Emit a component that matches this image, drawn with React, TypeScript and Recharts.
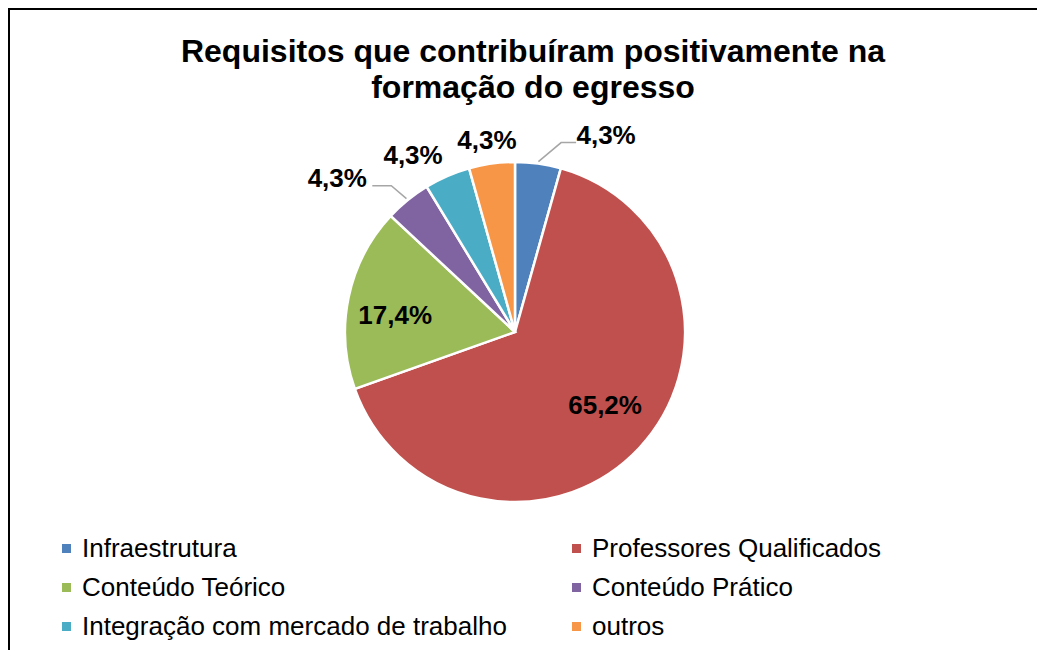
import React from "react";
import { PieChart, Pie, Cell } from "recharts";

// categories and counts (percent of 23 respondents)
const categories = [
  "Infraestrutura",
  "Professores Qualificados",
  "Conteúdo Teórico",
  "Conteúdo Prático",
  "Integração com mercado de trabalho",
  "outros",
];
const counts = [1, 15, 4, 1, 1, 1];

const COLORS = ["#4F81BD", "#C0504D", "#9BBB59", "#8064A2", "#4BACC6", "#F79646"];

// label placement (polar, relative to slice mid angle)
const LABEL_R = [217, 116, 121, 235, 204, 194];
const LABEL_SHIFT = [-17, 4, 3.6, 10, 6.5, 0.5];

const data = categories.map((name, i) => ({ name, value: counts[i] }));

const RAD = Math.PI / 180;

const renderLabel = (props: any) => {
  const { cx, cy, midAngle, outerRadius, percent, index } = props;
  const a = (midAngle + LABEL_SHIFT[index]) * RAD;
  const x = cx + LABEL_R[index] * Math.cos(a);
  const y = cy - LABEL_R[index] * Math.sin(a);
  const text = (percent * 100).toFixed(1).replace(".", ",") + "%";
  let leader = null;
  if (index === 0 || index === 3) {
    const sx = cx + (outerRadius + 2) * Math.cos(midAngle * RAD);
    const sy = cy - (outerRadius + 2) * Math.sin(midAngle * RAD);
    const side = index === 0 ? -1 : 1;
    const ex = x + side * (index === 0 ? 45 : 54);
    const ey = y + 7.5;
    const hx = x + side * (index === 0 ? 30 : 35);
    leader = (
      <polyline
        points={`${sx},${sy} ${ex},${ey} ${hx},${ey}`}
        fill="none"
        stroke="#A6A6A6"
        strokeWidth={1.5}
      />
    );
  }
  return (
    <g>
      {leader}
      <text
        x={x}
        y={y}
        textAnchor="middle"
        dominantBaseline="central"
        fill="#000"
        fontSize={26}
        fontWeight="bold"
        fontFamily="Liberation Sans, Arial, sans-serif"
      >
        {text}
      </text>
    </g>
  );
};

const LegendBox = () => (
  <div
    style={{
      position: "absolute",
      left: 52,
      top: 519,
      display: "grid",
      gridTemplateColumns: "510px 460px",
      fontFamily: "Liberation Sans, Arial, sans-serif",
      fontSize: 26,
      lineHeight: "39px",
      color: "#000",
    }}
  >
    {categories.map((c, i) => (
      <div key={c} style={{ display: "flex", alignItems: "center", whiteSpace: "nowrap" }}>
        <span
          style={{
            display: "inline-block",
            width: 9,
            height: 9,
            background: COLORS[i],
            marginRight: 11,
          }}
        />
        {c}
      </div>
    ))}
  </div>
);

export default function App() {
  return (
    <div
      style={{
        position: "relative",
        width: 1037,
        height: 640,
        borderTop: "2px solid #000",
        borderLeft: "2px solid #000",
        background: "#fff",
        overflow: "hidden",
      }}
    >
      <div
        style={{
          position: "absolute",
          left: 0,
          top: 23,
          width: 1046,
          textAlign: "center",
          fontFamily: "Liberation Sans, Arial, sans-serif",
          fontWeight: "bold",
          fontSize: 32,
          lineHeight: "36px",
          color: "#000",
        }}
      >
        Requisitos que contribuíram positivamente na
        <br />
        formação do egresso
      </div>
      <PieChart
        width={1037}
        height={640}
        margin={{ top: 0, right: 0, bottom: 0, left: 0 }}
        style={{ position: "absolute", left: 0, top: 0 }}
      >
        <Pie
          data={data}
          dataKey="value"
          nameKey="name"
          cx={505}
          cy={322}
          outerRadius={170}
          startAngle={90}
          endAngle={-270}
          stroke="#fff"
          strokeWidth={2.5}
          label={renderLabel}
          labelLine={false}
          isAnimationActive={false}
        >
          {data.map((_, idx) => (
            <Cell key={idx} fill={COLORS[idx]} />
          ))}
        </Pie>
      </PieChart>
      <LegendBox />
    </div>
  );
}
